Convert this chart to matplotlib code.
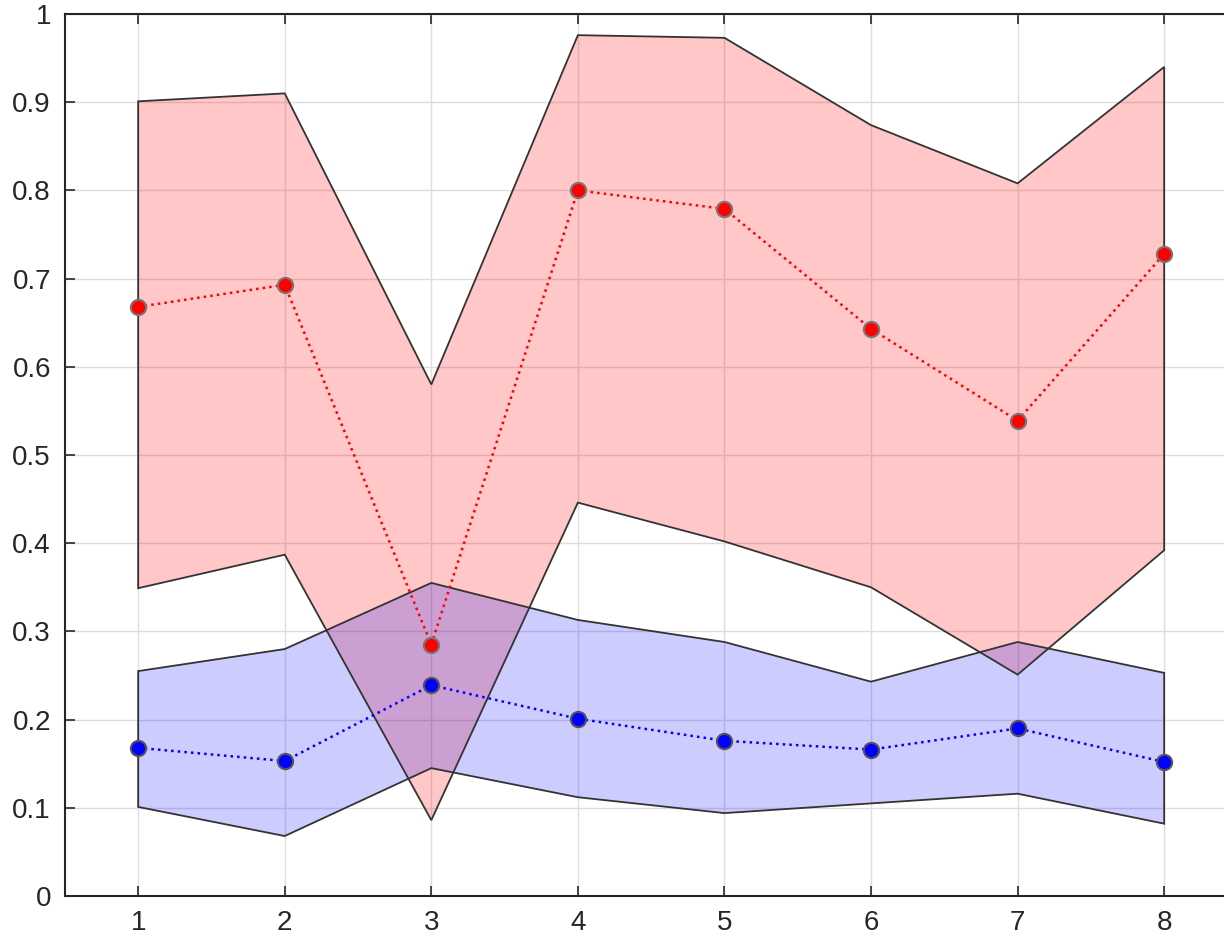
import matplotlib.pyplot as plt
import numpy as np

x = [1, 2, 3, 4, 5, 6, 7, 8]

red_mean = [0.668, 0.693, 0.285, 0.800, 0.779, 0.643, 0.539, 0.728]
red_upper = [0.901, 0.910, 0.580, 0.976, 0.973, 0.874, 0.808, 0.940]
red_lower = [0.349, 0.387, 0.086, 0.446, 0.402, 0.350, 0.251, 0.392]

blue_mean = [0.168, 0.153, 0.239, 0.201, 0.176, 0.166, 0.190, 0.152]
blue_upper = [0.255, 0.280, 0.355, 0.313, 0.288, 0.243, 0.288, 0.253]
blue_lower = [0.101, 0.068, 0.145, 0.112, 0.094, 0.105, 0.116, 0.082]

plt.rcParams['font.family'] = ['Liberation Sans', 'DejaVu Sans']

fig = plt.figure(figsize=(12.24, 9.4), dpi=100)
ax = fig.add_axes([0.053, 0.0468, 0.958, 0.9383])

# shaded bands: upper edge forward, lower edge back
xs = np.concatenate([x, x[::-1]])
ax.fill(xs, np.concatenate([red_upper, red_lower[::-1]]), facecolor='red', alpha=0.22,
        edgecolor='none', zorder=2)
ax.fill(xs, np.concatenate([red_upper, red_lower[::-1]]), facecolor='none',
        edgecolor='#333333', linewidth=1.3, zorder=3)
ax.fill(xs, np.concatenate([blue_upper, blue_lower[::-1]]), facecolor='blue', alpha=0.2,
        edgecolor='none', zorder=2)
ax.fill(xs, np.concatenate([blue_upper, blue_lower[::-1]]), facecolor='none',
        edgecolor='#333333', linewidth=1.3, zorder=3)

ax.plot(x, red_mean, ':', color='red', linewidth=1.8, marker='o', markersize=11,
        markerfacecolor='red', markeredgecolor='#777777', markeredgewidth=1.5, zorder=4)
ax.plot(x, blue_mean, ':', color='blue', linewidth=1.8, marker='o', markersize=11,
        markerfacecolor='blue', markeredgecolor='#555555', markeredgewidth=1.5, zorder=4)

ax.set_xlim(0.5, 8.5)
ax.set_ylim(0, 1)
ax.set_xticks(x)
ax.set_yticks(np.arange(0, 1.01, 0.1))
ax.set_yticklabels(['0', '0.1', '0.2', '0.3', '0.4', '0.5', '0.6', '0.7', '0.8', '0.9', '1'])
ax.grid(True, color='#dddddd', linewidth=1.0, zorder=0)
ax.set_axisbelow(True)
ax.tick_params(direction='in', top=True, right=False, length=7, width=1.2,
               labelsize=20, colors='#262626', pad=10)
for s in ax.spines.values():
    s.set_color('#262626')
    s.set_linewidth(1.5)
ax.spines['right'].set_visible(False)

fig.savefig('out.png', dpi=100)
